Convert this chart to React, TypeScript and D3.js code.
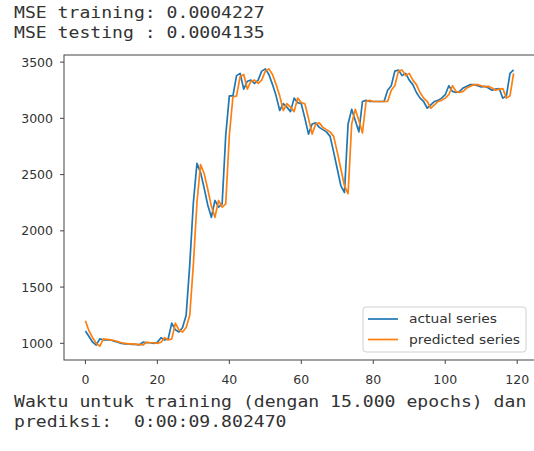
import React from "react";
import * as d3 from "d3";

const actual: number[] = [
  1110, 1060, 1010, 985, 1040, 1030, 1030, 1030, 1020, 1010,
  1000, 995, 995, 990, 990, 985, 1010, 1005, 1005, 1000,
  1010, 1050, 1030, 1040, 1180, 1120, 1100, 1140, 1250, 1700,
  2250, 2600, 2520, 2380, 2230, 2120, 2270, 2210, 2240, 2850,
  3200, 3200, 3380, 3400, 3260, 3330, 3340, 3310, 3340, 3420,
  3440, 3390, 3300, 3200, 3070, 3130, 3100, 3060, 3180, 3140,
  3130, 3000, 2860, 2950, 2960, 2920, 2900, 2880, 2840, 2700,
  2550, 2400, 2340, 2950, 3080, 2980, 2880, 3150, 3160, 3150,
  3150, 3150, 3150, 3150, 3250, 3290, 3420, 3430, 3380, 3400,
  3340, 3300, 3230, 3180, 3150, 3090, 3120, 3150, 3160, 3180,
  3210, 3290, 3240, 3230, 3240, 3270, 3285, 3300, 3300, 3290,
  3280, 3285, 3270, 3250, 3260, 3265, 3180, 3200, 3400, 3430,
];

const predicted: number[] = [
  1200, 1110, 1050, 1000, 975, 1040, 1035, 1030, 1025, 1015,
  1005, 1000, 995, 995, 990, 990, 985, 1010, 1005, 1005,
  1000, 1010, 1050, 1030, 1040, 1180, 1120, 1100, 1140, 1250,
  1700, 2250, 2590, 2510, 2370, 2220, 2120, 2270, 2210, 2240,
  2850, 3190, 3200, 3370, 3390, 3260, 3330, 3340, 3310, 3340,
  3420, 3440, 3390, 3300, 3200, 3070, 3130, 3100, 3060, 3180,
  3140, 3130, 3000, 2860, 2950, 2960, 2920, 2900, 2880, 2840,
  2700, 2550, 2400, 2330, 2950, 3080, 2980, 2870, 3150, 3160,
  3150, 3150, 3150, 3150, 3150, 3250, 3290, 3420, 3430, 3380,
  3400, 3340, 3300, 3230, 3180, 3150, 3090, 3120, 3150, 3160,
  3180, 3210, 3290, 3240, 3230, 3240, 3270, 3285, 3300, 3300,
  3290, 3280, 3285, 3270, 3250, 3260, 3265, 3180, 3200, 3400,
];

const xTicks: number[] = [0, 20, 40, 60, 80, 100, 120];
const yTicks: number[] = [1000, 1500, 2000, 2500, 3000, 3500];
const seriesNames: string[] = ["actual series", "predicted series"];
const headerLines: string[] = ["MSE training: 0.0004227", "MSE testing : 0.0004135"];
const footerLines: string[] = [
  "Waktu untuk training (dengan 15.000 epochs) dan",
  "prediksi:  0:00:09.802470",
];

const W = 534;
const H = 451;
const plot = { left: 64, right: 535, top: 55, bottom: 360 };
const BLUE = "#1f77b4";
const ORANGE = "#ff7f0e";
const CHAR_W = 10.9;

export default function App() {
  const n = actual.length;
  const margin = (n - 1) * 0.05;
  const x = d3.scaleLinear().domain([-margin, n - 1 + margin]).range([plot.left, plot.right]);
  const allVals = actual.concat(predicted);
  const yMin = d3.min(allVals) as number;
  const yMax = d3.max(allVals) as number;
  const yPad = (yMax - yMin) * 0.05;
  const y = d3.scaleLinear().domain([yMin - yPad, yMax + yPad]).range([plot.bottom, plot.top]);

  const line = d3
    .line<number>()
    .x((_, i) => x(i))
    .y((d) => y(d));

  const mono = "'DejaVu Sans Mono', 'Liberation Mono', monospace";
  const sans = "'DejaVu Sans', sans-serif";

  return (
    <svg
      width={W}
      height={H}
      style={{ position: "absolute", left: 0, top: 0, background: "#fff" }}
    >
      <rect x={0} y={0} width={W} height={H} fill="#fff" />
      {headerLines.map((t, i) => (
        <text
          key={"h" + i}
          x={14}
          y={18 + i * 20}
          fontFamily={mono}
          fontSize={15.5}
          fill="#333"
          textLength={t.length * CHAR_W}
          lengthAdjust="spacingAndGlyphs"
          style={{ whiteSpace: "pre" }}
        >
          {t}
        </text>
      ))}
      {footerLines.map((t, i) => (
        <text
          key={"f" + i}
          x={14}
          y={407 + i * 20}
          fontFamily={mono}
          fontSize={15.5}
          fill="#333"
          textLength={t.length * CHAR_W}
          lengthAdjust="spacingAndGlyphs"
          style={{ whiteSpace: "pre" }}
        >
          {t}
        </text>
      ))}

      <defs>
        <clipPath id="plotclip">
          <rect
            x={plot.left}
            y={plot.top}
            width={plot.right - plot.left}
            height={plot.bottom - plot.top}
          />
        </clipPath>
      </defs>

      <g clipPath="url(#plotclip)">
        <path d={line(actual) || ""} fill="none" stroke={BLUE} strokeWidth={1.7} strokeLinejoin="round" />
        <path d={line(predicted) || ""} fill="none" stroke={ORANGE} strokeWidth={1.7} strokeLinejoin="round" />
      </g>

      <rect
        x={plot.left}
        y={plot.top}
        width={plot.right - plot.left}
        height={plot.bottom - plot.top}
        fill="none"
        stroke="#444"
        strokeWidth={1}
      />

      {xTicks.map((t) => (
        <g key={"xt" + t}>
          <line x1={x(t)} x2={x(t)} y1={plot.bottom} y2={plot.bottom + 4} stroke="#444" strokeWidth={1} />
          <text
            x={x(t)}
            y={plot.bottom + 24}
            textAnchor="middle"
            fontFamily={sans}
            fontSize={12.5}
            fill="#333"
          >
            {t}
          </text>
        </g>
      ))}
      {yTicks.map((t) => (
        <g key={"yt" + t}>
          <line x1={plot.left - 4} x2={plot.left} y1={y(t)} y2={y(t)} stroke="#444" strokeWidth={1} />
          <text
            x={plot.left - 11}
            y={y(t)}
            dy="0.36em"
            textAnchor="end"
            fontFamily={sans}
            fontSize={12.5}
            fill="#333"
          >
            {t}
          </text>
        </g>
      ))}

      <g>
        <rect x={363} y={307} width={163} height={45} rx={3} fill="#fff" fillOpacity={0.8} stroke="#d0d0d0" strokeWidth={1} />
        {seriesNames.map((s, i) => (
          <g key={s}>
            <line
              x1={368}
              x2={398}
              y1={319 + i * 20.5}
              y2={319 + i * 20.5}
              stroke={i === 0 ? BLUE : ORANGE}
              strokeWidth={1.7}
            />
            <text
              x={409}
              y={319 + i * 20.5}
              dy="0.35em"
              fontFamily={sans}
              fontSize={12.5}
              fill="#333"
              textLength={i === 0 ? 88 : 111}
              lengthAdjust="spacingAndGlyphs"
            >
              {s}
            </text>
          </g>
        ))}
      </g>
    </svg>
  );
}
